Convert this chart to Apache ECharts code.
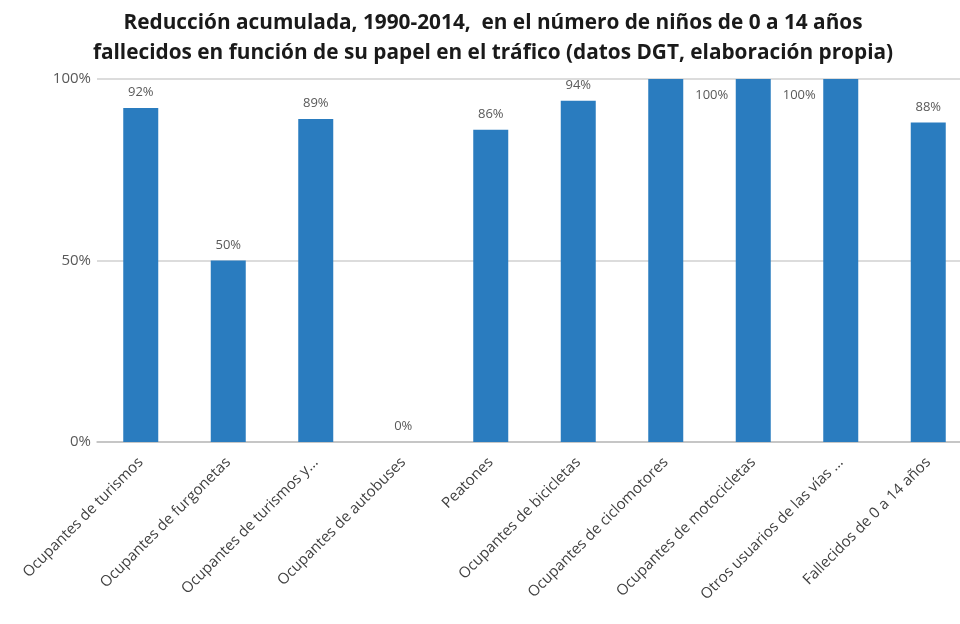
<!DOCTYPE html>
<html>
<head>
<meta charset="utf-8">
<script src="https://cdn.jsdelivr.net/npm/echarts@6/dist/echarts.min.js"></script>
<style>
html,body{margin:0;padding:0;background:#fff;overflow:hidden;}
#chart{width:960px;height:624px;}
</style>
</head>
<body>
<div id="chart"></div>
<script>
var categories = ['Ocupantes de turismos', 'Ocupantes de furgonetas', 'Ocupantes de turismos y...',
    'Ocupantes de autobuses', 'Peatones', 'Ocupantes de bicicletas', 'Ocupantes de ciclomotores',
    'Ocupantes de motocicletas', 'Otros usuarios de las vías ...', 'Fallecidos de 0 a 14 años'];
var reduction = [92, 50, 89, 0, 86, 94, 100, 100, 100, 88];
var yTicks = [0, 50, 100];

var barColor = '#2a7cbf';
var fontName = "'Open Sans', 'Noto Sans', sans-serif";

// labels that Excel pushed beside the full bars
var labelShift = {6: [46, 0], 7: [46, 0]};
var hiddenLabel = {8: true};

var barData = reduction.map(function (v, i) {
    var item = {value: v};
    if (labelShift[i]) {
        item.label = {position: 'insideTop', offset: labelShift[i], distance: 10};
    }
    if (hiddenLabel[i]) {
        item.label = {show: false};
    }
    return item;
});

var myChart = echarts.init(document.getElementById('chart'));
var option = {
    animation: false,
    backgroundColor: '#fff',
    title: {
        text: 'Reducción acumulada, 1990-2014,  en el número de niños de 0 a 14 años\nfallecidos en función de su papel en el tráfico (datos DGT, elaboración propia)',
        left: 488,
        textAlign: 'center',
        top: 3,
        textStyle: {
            fontFamily: fontName,
            fontSize: 20.8,
            fontWeight: 'bold',
            color: '#1a1a1a',
            lineHeight: 30
        }
    },
    grid: {
        left: 97,
        width: 875,
        top: 79,
        height: 363,
        outerBoundsMode: 'none',
        containLabel: false
    },
    xAxis: {
        type: 'category',
        data: categories,
        axisLine: {lineStyle: {color: '#bfbfbf', width: 1.5}},
        axisTick: {show: false},
        axisLabel: {
            rotate: 45,
            interval: 0,
            margin: 18,
            fontFamily: fontName,
            fontSize: 15,
            color: '#404040'
        }
    },
    yAxis: {
        type: 'value',
        min: yTicks[0],
        max: yTicks[yTicks.length - 1],
        interval: yTicks[1] - yTicks[0],
        axisLine: {show: false},
        axisTick: {show: false},
        splitLine: {lineStyle: {color: '#d0d0d0', width: 1.5}},
        axisLabel: {
            margin: 6,
            fontFamily: fontName,
            fontSize: 15,
            color: '#595959',
            formatter: '{value}%'
        }
    },
    series: [{
        type: 'bar',
        data: barData,
        barWidth: '40%',
        itemStyle: {color: barColor},
        label: {
            show: true,
            position: 'top',
            distance: 9,
            fontFamily: fontName,
            fontSize: 13,
            color: '#595959',
            formatter: '{c}%'
        }
    }]
};
myChart.setOption(option);
</script>
</body>
</html>
